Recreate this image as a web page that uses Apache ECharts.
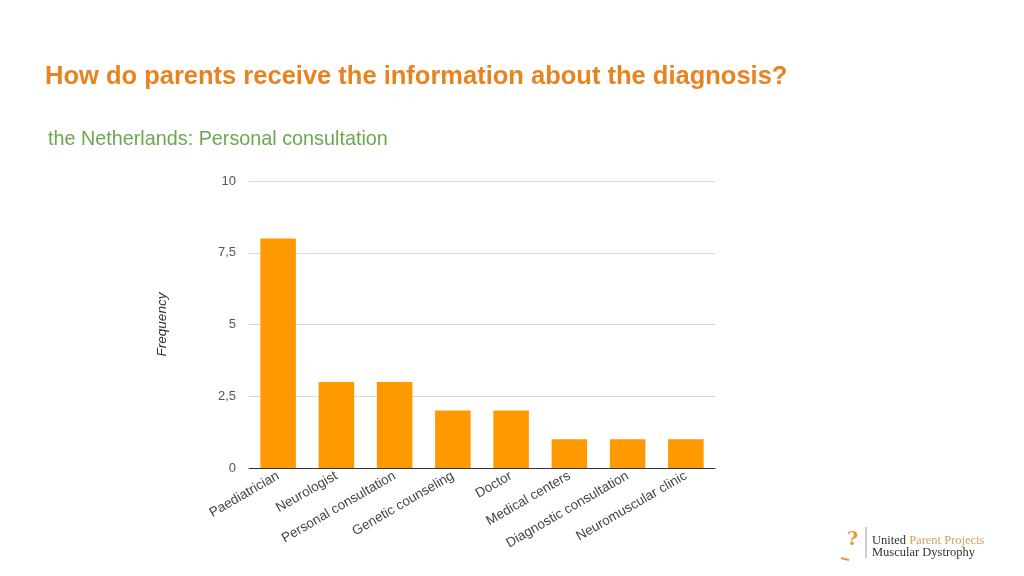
<!DOCTYPE html>
<html>
<head>
<meta charset="utf-8">
<script src="https://cdn.jsdelivr.net/npm/echarts@6/dist/echarts.min.js"></script>
<style>
  html, body { margin: 0; padding: 0; background: #fff; }
  #chart { width: 1024px; height: 576px; }
</style>
</head>
<body>
<div id="chart"></div>
<script>
const categories = ['Paediatrician', 'Neurologist', 'Personal consultation', 'Genetic counseling',
  'Doctor', 'Medical centers', 'Diagnostic consultation', 'Neuromuscular clinic'];
const frequency = [8, 3, 3, 2, 2, 1, 1, 1];

const chart = echarts.init(document.getElementById('chart'));

const option = {
  backgroundColor: '#ffffff',
  animation: false,
  textStyle: { fontFamily: 'Liberation Sans, Arial, sans-serif' },
  graphic: [
    {
      type: 'text', left: 45, top: 64,
      style: { text: 'How do parents receive the information about the diagnosis?', fill: '#e8831f',
        font: 'bold 25.5px "Liberation Sans", Arial, sans-serif' }
    },
    {
      type: 'text', left: 48, top: 130,
      style: { text: 'the Netherlands: Personal consultation', fill: '#6aa84f',
        font: '19.8px "Liberation Sans", Arial, sans-serif' }
    },
    // logo
    {
      type: 'line', shape: { x1: 866, y1: 527, x2: 866, y2: 558 },
      style: { stroke: '#999', lineWidth: 1 }
    },
    {
      type: 'text', left: 847, top: 531,
      style: { text: '?', fill: '#e39a3a', font: 'bold 19px "DejaVu Serif", serif' }
    },
    {
      type: 'line', shape: { x1: 841, y1: 558, x2: 849, y2: 560 },
      style: { stroke: '#e39a3a', lineWidth: 2 }
    },
    {
      type: 'text', left: 872, top: 534,
      style: {
        rich: {
          a: { fill: '#333', font: '12.5px "Liberation Serif", serif' },
          b: { fill: '#d4a35c', font: '12.5px "Liberation Serif", serif' }
        },
        text: '{a|United }{b|Parent Projects}'
      }
    },
    {
      type: 'text', left: 872, top: 546,
      style: { text: 'Muscular Dystrophy', fill: '#333', font: '12.5px "Liberation Serif", serif' }
    }
  ],
  grid: { left: 249, right: 309, top: 181, bottom: 108 },
  xAxis: {
    type: 'category',
    data: categories,
    axisLine: { lineStyle: { color: '#333', width: 1 } },
    axisTick: { show: false },
    axisLabel: { rotate: 30, color: '#444', fontSize: 13.5, interval: 0, margin: 7 }
  },
  yAxis: {
    type: 'value',
    min: 0, max: 10, interval: 2.5,
    name: 'Frequency',
    nameLocation: 'middle',
    nameGap: 80,
    nameRotate: 90,
    nameTextStyle: { color: '#333', fontSize: 13.5, fontStyle: 'italic' },
    axisLine: { show: false },
    axisTick: { show: false },
    axisLabel: {
      color: '#555', fontSize: 13, margin: 13,
      formatter: v => String(v).replace('.', ',')
    },
    splitLine: { lineStyle: { color: '#d6d6d6' } }
  },
  series: [{
    type: 'bar',
    data: frequency,
    barWidth: '61%',
    itemStyle: { color: '#ff9900' }
  }]
};

chart.setOption(option);
</script>
</body>
</html>
